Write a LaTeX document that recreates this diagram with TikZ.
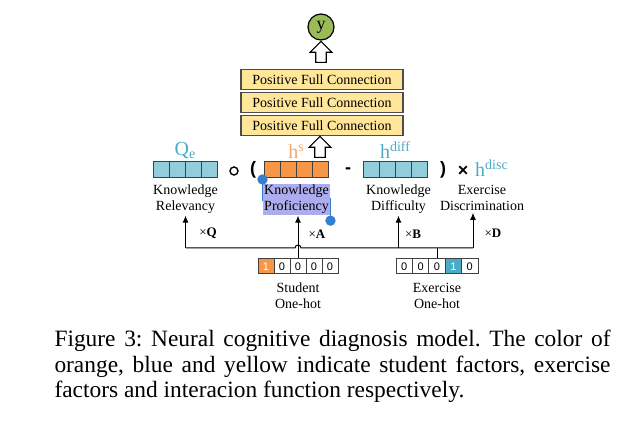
\documentclass[tikz,border=0pt]{standalone}
\usepackage{fontspec}
\setmainfont{Liberation Serif}
\newfontfamily\digitfont{Liberation Sans}
\usetikzlibrary{positioning,shapes.arrows,arrows.meta}

\definecolor{cellblue}{HTML}{92CDDC}
\definecolor{cellorange}{HTML}{F79646}
\definecolor{cellteal}{HTML}{4BACC6}
\definecolor{lblblue}{HTML}{4BACC6}
\definecolor{lblorange}{HTML}{F7A66A}
\definecolor{fcyellow}{HTML}{FFE699}
\definecolor{outgreen}{HTML}{9BBB59}
\definecolor{selpurple}{RGB}{172,172,238}
\definecolor{selhandle}{RGB}{52,128,204}

\tikzset{
  cell/.style={draw=black!75, line width=0.5pt, minimum width=8pt, minimum height=8pt, inner sep=0pt},
  bluecell/.style={cell, fill=cellblue},
  orangecell/.style={cell, fill=cellorange},
  onehot/.style={cell, minimum height=7.5pt, font=\digitfont\fontsize{5.5}{6}\selectfont},
  stuhot/.style={onehot, fill=cellorange, text=white},
  exehot/.style={onehot, fill=cellteal, text=white},
  lbl/.style={align=center, inner sep=0.6pt, font=\fontsize{7}{8}\selectfont},
  veclbl/.style={inner sep=0pt, font=\fontsize{10}{11}\selectfont},
  opsym/.style={inner sep=0pt, font=\digitfont\bfseries\fontsize{9}{10}\selectfont},
  mult/.style={inner sep=0pt, font=\fontsize{6.5}{7}\selectfont},
  fcbox/.style={draw=black!70, line width=0.6pt, fill=fcyellow, minimum width=81pt,
    minimum height=10pt, inner sep=0pt, font=\fontsize{7}{8}\selectfont},
  hollowup/.style={single arrow, draw=black, fill=white, line width=0.6pt,
    shape border rotate=90, minimum height=10.5pt, inner sep=2.3pt,
    single arrow head extend=2.8pt},
  outnode/.style={circle, draw=black, line width=0.6pt, fill=outgreen,
    minimum size=13pt, inner sep=0pt, font=\fontsize{9}{10}\selectfont}
}

\begin{document}
\begin{tikzpicture}[x=0.5pt, y=-0.5pt, line width=0.5pt,
  >={Latex[length=3.5pt,width=3pt]}]
\useasboundingbox (0,0) rectangle (637,442);

% output and interaction function
\node[outnode] (y) at (321,27) {y};
\node[hollowup] (upy) at (321,54.5) {};
\node[fcbox] (fc1) at (322,79.5) {Positive Full Connection};
\node[fcbox, below=1pt of fc1] (fc2) {Positive Full Connection};
\node[fcbox, below=1pt of fc2] (fc3) {Positive Full Connection};
\node[hollowup] (upfc) at (320,149.5) {};

% factor vectors
\foreach \i in {0,...,3}
  \node[bluecell] (qe\i) at ({161+16*\i},170) {};
\foreach \i in {0,...,3}
  \node[orangecell] (hs\i) at ({272+16*\i},170) {};
\foreach \i in {0,...,3}
  \node[bluecell] (hd\i) at ({371+16*\i},170) {};

\node[veclbl, text=lblblue, anchor=base] (qelbl) at ([yshift=3pt]qe1.north east) {Q\textsubscript{e}};
\node[veclbl, text=lblorange, anchor=base] (hslbl) at ([yshift=1.5pt]hs1.north east) {h\textsuperscript{s}};
\node[veclbl, text=lblblue, anchor=base] (hdlbl) at ([yshift=1.5pt]hd1.north east) {h\textsuperscript{diff}};

% operators
\node[circle, draw, line width=0.7pt, minimum size=4pt, inner sep=0pt] (circop) at (234,171) {};
\node[opsym] (lpar) at (253,170) {(};
\node[opsym] (minus) at (348,171) {-};
\node[opsym] (rpar) at (443,170) {)};
\node[opsym] (times) at (463,171) {×};
\node[veclbl, text=lblblue, anchor=base] (hdisc) at (492,177) {h\textsuperscript{disc}};

% vector names
\node[lbl, below=2.5pt of qe1.south east] (relev) {Knowledge\\Relevancy};
\node[lbl, fill=selpurple, below=2.5pt of hs1.south east] (profic) {Knowledge\\Proficiency};
\node[lbl, below=2.5pt of hd1.south east, xshift=1.5pt] (diffic) {Knowledge\\Difficulty};
\node[lbl, anchor=north] (discr) at (482,184) {Exercise\\Discrimination};

% selection handles
\draw[selhandle, line width=0.8pt] ([yshift=2pt]profic.north west) -- ([yshift=-9pt]profic.north west);
\fill[selhandle] ([yshift=2pt]profic.north west) circle[radius=2.6pt];
\draw[selhandle, line width=0.8pt] ([yshift=9pt]profic.south east) -- ([yshift=-2pt]profic.south east);
\fill[selhandle] ([yshift=-2.5pt]profic.south east) circle[radius=2.6pt];

% one-hot inputs
\foreach \v/\s [count=\i from 0] in {1/stuhot,0/onehot,0/onehot,0/onehot,0/onehot}
  \node[\s] (st\i) at ({266+16*\i},266.5) {\v};
\foreach \v/\s [count=\i from 0] in {0/onehot,0/onehot,0/onehot,1/exehot,0/onehot}
  \node[\s, minimum width=8.2pt] (ex\i) at ({404.2+16.4*\i},266.5) {\v};
\node[lbl, below=3.5pt of st2] (stulbl) {Student\\One-hot};
\node[lbl, below=3.5pt of ex2] (exelbl) {Exercise\\One-hot};

% connections
\coordinate (busy) at (0,248);
\coordinate (dtap) at (473,248);
\coordinate (hop) at (st2.north |- busy);
\draw (ex2.north) -- (ex2.north |- busy);
\draw (relev.south |- busy) -- ([xshift=-1.5pt]hop)
  arc[start angle=180, end angle=0, radius=1.5pt] -- (dtap);
\draw[->] (relev.south |- busy) -- (relev.south);
\draw[->] (st2.north) -- (st2.north |- profic.south);
\draw[->] (diffic.south |- busy) -- (diffic.south);
\draw[->] (dtap) -- (dtap |- discr.south);

\node[mult] (mq) at (208,233) {×\textbf{Q}};
\node[mult] (ma) at (317,234) {×\textbf{A}};
\node[mult] (mb) at (413,234) {×\textbf{B}};
\node[mult] (md) at (493,233) {×\textbf{D}};

% caption
\node[anchor=north west, text width=278pt, align=justify, inner sep=0pt,
  font=\fontsize{11.7}{12.75}\selectfont] (caption) at (54,330)
  {\frenchspacing Figure 3: Neural cognitive diagnosis model. The color of\linebreak
   orange, blue and yellow indicate student factors, exercise\linebreak
   factors and interacion function respectively.};

\end{tikzpicture}
\end{document}
